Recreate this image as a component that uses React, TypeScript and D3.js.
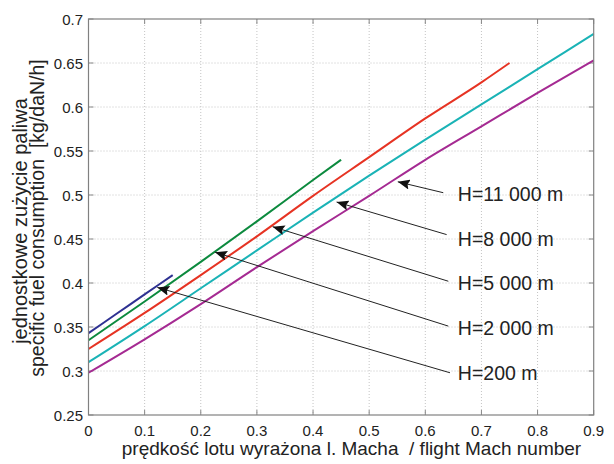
import React from "react";
import * as d3 from "d3";

const W = 614;
const H = 464;

const xTicks = [0, 0.1, 0.2, 0.3, 0.4, 0.5, 0.6, 0.7, 0.8, 0.9];
const yTicks = [0.25, 0.3, 0.35, 0.4, 0.45, 0.5, 0.55, 0.6, 0.65, 0.7];

const machH200 = [0, 0.05, 0.1, 0.15];
const sfcH200 = [0.343, 0.365, 0.387, 0.409];

const machH2000 = [0, 0.1, 0.2, 0.3, 0.4, 0.45];
const sfcH2000 = [0.335, 0.379, 0.424, 0.47, 0.517, 0.54];

const machH5000 = [0, 0.1, 0.2, 0.3, 0.4, 0.5, 0.6, 0.7, 0.75];
const sfcH5000 = [0.325, 0.366, 0.409, 0.453, 0.499, 0.543, 0.587, 0.628, 0.65];

const machH8000 = [0, 0.1, 0.2, 0.3, 0.4, 0.5, 0.6, 0.7, 0.8, 0.9];
const sfcH8000 = [0.31, 0.351, 0.394, 0.437, 0.48, 0.522, 0.563, 0.603, 0.643, 0.683];

const machH11000 = [0, 0.1, 0.2, 0.3, 0.4, 0.5, 0.6, 0.7, 0.8, 0.9];
const sfcH11000 = [0.298, 0.336, 0.376, 0.418, 0.459, 0.499, 0.54, 0.578, 0.616, 0.653];

const seriesColors = ["#2e3192", "#0c8a3e", "#e63323", "#1ab3b6", "#a52a92"];

const labelTexts = ["H=200 m", "H=2 000 m", "H=5 000 m", "H=8 000 m", "H=11 000 m"];
// arrow tip (on curve), arrow tail, label anchor — all in data units
const tipX = [0.1226, 0.2254, 0.328, 0.442, 0.551];
const tipY = [0.395, 0.435, 0.464, 0.492, 0.515];
const tailX = [0.644, 0.641, 0.641, 0.638, 0.632];
const tailY = [0.298, 0.351, 0.402, 0.455, 0.5026];
const labelX = [0.658, 0.658, 0.658, 0.658, 0.658];
const labelY = [0.2977, 0.349, 0.4, 0.45, 0.501];

const FONT = "'Liberation Sans', Arial, sans-serif";

export default function App() {
  const left = 88.5;
  const right = 593.7;
  const top = 19;
  const bottom = 415;

  const x = d3.scaleLinear().domain([0, 0.9]).range([left, right]);
  const y = d3.scaleLinear().domain([0.25, 0.7]).range([bottom, top]);

  const series = [
    { m: machH200, s: sfcH200 },
    { m: machH2000, s: sfcH2000 },
    { m: machH5000, s: sfcH5000 },
    { m: machH8000, s: sfcH8000 },
    { m: machH11000, s: sfcH11000 },
  ];

  const line = d3
    .line<[number, number]>()
    .x((d) => x(d[0]))
    .y((d) => y(d[1]))
    .curve(d3.curveMonotoneX);

  const tickLen = 5;

  return (
    <svg
      width={W}
      height={H}
      style={{ position: "absolute", left: 0, top: 0, background: "#fff" }}
      fontFamily={FONT}
    >
      <defs>
        <marker
          id="arrowhead"
          viewBox="0 0 12 10"
          refX="12"
          refY="5"
          markerWidth="12"
          markerHeight="10"
          markerUnits="userSpaceOnUse"
          orient="auto"
        >
          <path d="M0,0 L12,5 L0,10 L2,5 Z" fill="#111" />
        </marker>
      </defs>
      <rect x={0} y={0} width={W} height={H} fill="#fff" />
      {xTicks.slice(1, -1).map((t) => (
        <line
          key={"gx" + t}
          x1={x(t)}
          x2={x(t)}
          y1={top}
          y2={bottom}
          stroke="#c4c4c4"
          strokeWidth={1}
          strokeDasharray="1,2"
        />
      ))}
      {yTicks.slice(1, -1).map((t) => (
        <line
          key={"gy" + t}
          x1={left}
          x2={right}
          y1={y(t)}
          y2={y(t)}
          stroke="#c4c4c4"
          strokeWidth={1}
          strokeDasharray="1,2"
        />
      ))}
      {xTicks.map((t) => (
        <g key={"tx" + t}>
          <line x1={x(t)} x2={x(t)} y1={bottom} y2={bottom - tickLen} stroke="#888" />
          <line x1={x(t)} x2={x(t)} y1={top} y2={top + tickLen} stroke="#888" />
        </g>
      ))}
      {yTicks.map((t) => (
        <g key={"ty" + t}>
          <line x1={left} x2={left + tickLen} y1={y(t)} y2={y(t)} stroke="#888" />
          <line x1={right} x2={right - tickLen} y1={y(t)} y2={y(t)} stroke="#888" />
        </g>
      ))}
      {series.map((sr, i) => (
        <path
          key={"s" + i}
          d={line(sr.m.map((mv, j) => [mv, sr.s[j]] as [number, number])) || ""}
          fill="none"
          stroke={seriesColors[i]}
          strokeWidth={2}
        />
      ))}
      <rect
        x={left}
        y={top}
        width={right - left}
        height={bottom - top}
        fill="none"
        stroke="#808080"
        strokeWidth={1.2}
      />
      {xTicks.map((t) => (
        <text
          key={"lx" + t}
          x={x(t)}
          y={436}
          textAnchor="middle"
          fontSize={15}
          fill="#222"
        >
          {d3.format("~g")(t)}
        </text>
      ))}
      {yTicks.map((t) => (
        <text
          key={"ly" + t}
          x={83}
          y={y(t) + 5.5}
          textAnchor="end"
          fontSize={15}
          fill="#222"
        >
          {d3.format("~g")(t)}
        </text>
      ))}
      {labelTexts.map((lab, i) => (
        <g key={"a" + i}>
          <line
            x1={x(tailX[i])}
            y1={y(tailY[i])}
            x2={x(tipX[i])}
            y2={y(tipY[i])}
            stroke="#222"
            strokeWidth={1}
            markerEnd="url(#arrowhead)"
          />
          <text
            x={x(labelX[i])}
            y={y(labelY[i]) + 7}
            fontSize={19.5}
            fill="#222"
          >
            {lab}
          </text>
        </g>
      ))}
      <text
        x={351.5}
        y={455}
        textAnchor="middle"
        fontSize={19}
        fill="#222"
        style={{ whiteSpace: "pre" }}
      >
        {"prędkość lotu wyrażona l. Macha  / flight Mach number"}
      </text>
      <text
        transform="translate(26.5,221) rotate(-90)"
        textAnchor="middle"
        fontSize={20}
        fill="#222"
      >
        jednostkowe zużycie paliwa
      </text>
      <text
        transform="translate(44,218) rotate(-90)"
        textAnchor="middle"
        fontSize={19.5}
        fill="#222"
        style={{ whiteSpace: "pre" }}
      >
        {"specific fuel consumption  [kg/daN/h]"}
      </text>
    </svg>
  );
}
